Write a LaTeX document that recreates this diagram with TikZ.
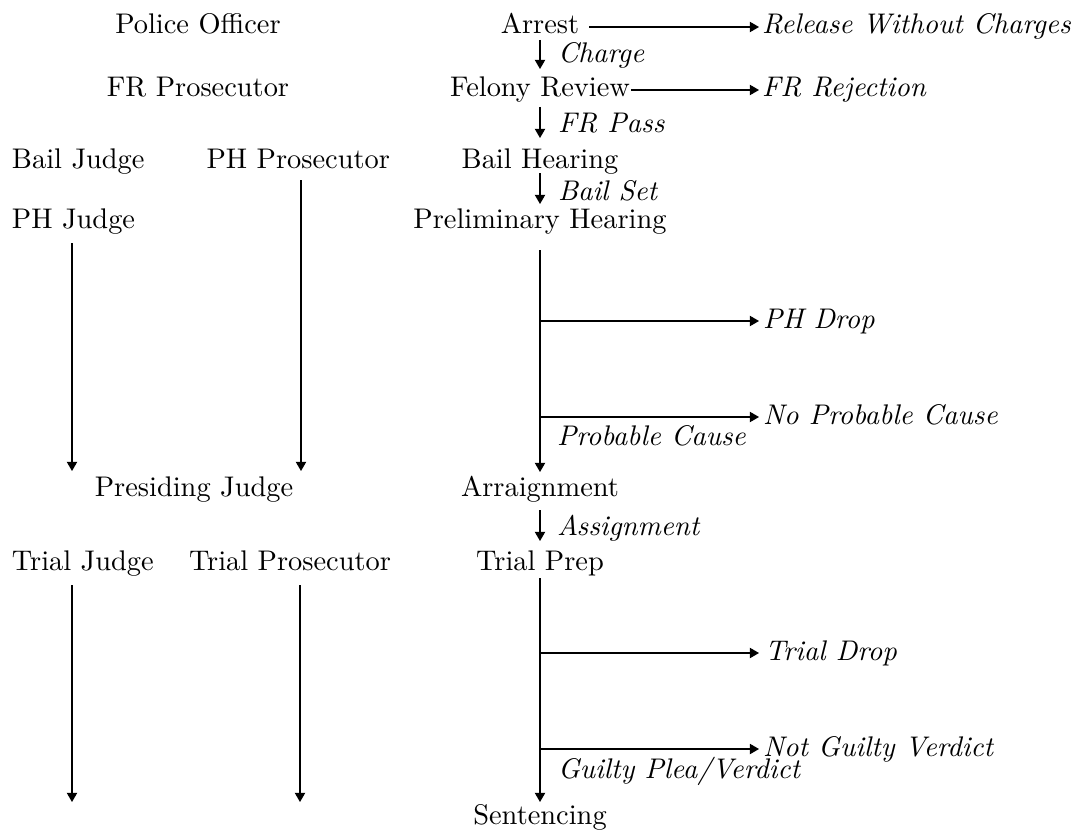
\documentclass[tikz,border=0pt]{standalone}
\usetikzlibrary{arrows.meta}
\begin{document}
\begin{tikzpicture}[x=0.3521pt,y=-0.3521pt,
  every node/.style={inner sep=0pt,outer sep=0pt},
  lbl/.style={font=\itshape},
  arr/.style={-{Triangle[length=3.2pt,width=3.6pt]},line width=0.4pt}]
\useasboundingbox (0,0) rectangle (1078,833);

% row 1
\node[anchor=base] (police) at (198,34) {Police Officer};
\node[anchor=base] (arrest) at (540,34) {Arrest};
\node[anchor=base west,lbl] (release) at (762,34) {Release Without Charges};
\node[anchor=base west,lbl] (charge) at (558,63) {Charge};
% row 2
\node[anchor=base] (frpros) at (198,97) {FR Prosecutor};
\node[anchor=base] (felony) at (540,97) {Felony Review};
\node[anchor=base west,lbl] (frrej) at (762,97) {FR Rejection};
\node[anchor=base west,lbl] (frpass) at (558,132) {FR Pass};
% row 3
\node[anchor=base west] (bailjudge) at (12,168) {Bail Judge};
\node[anchor=base east] (phpros) at (390,168) {PH Prosecutor};
\node[anchor=base] (bailhear) at (540,168) {Bail Hearing};
\node[anchor=base west,lbl] (bailset) at (558,200) {Bail Set};
% row 4
\node[anchor=base west] (phjudge) at (12,228) {PH Judge};
\node[anchor=base] (prelim) at (540,228) {Preliminary Hearing};
\node[anchor=base west,lbl] (phdrop) at (763,328) {PH Drop};
\node[anchor=base west,lbl] (npc) at (763,424) {No Probable Cause};
\node[anchor=base west,lbl] (pc) at (557,445) {Probable Cause};
% row 5
\node[anchor=base] (presiding) at (194,496) {Presiding Judge};
\node[anchor=base] (arraign) at (540,496) {Arraignment};
\node[anchor=base west,lbl] (assign) at (557,535) {Assignment};
% row 6
\node[anchor=base west] (trialjudge) at (12,570) {Trial Judge};
\node[anchor=base east] (trialpros) at (391,570) {Trial Prosecutor};
\node[anchor=base] (trialprep) at (540,570) {Trial Prep};
\node[anchor=base west,lbl] (trialdrop) at (765,660) {Trial Drop};
\node[anchor=base west,lbl] (ngv) at (763,756) {Not Guilty Verdict};
\node[anchor=base west,lbl] (guilty) at (558,778) {Guilty Plea/Verdict};
% row 7
\node[anchor=base] (sentencing) at (540,824) {Sentencing};

% free ends and branch points
\coordinate (br1) at (540,321);
\coordinate (br2) at (540,417);
\coordinate (br3) at (540,653);
\coordinate (br4) at (540,749);
\coordinate (phjend) at (72,471);
\coordinate (phpend) at (301,471);
\coordinate (tjend) at (72,802);
\coordinate (tpend) at (300,802);

% horizontal arrows
\draw[arr] ([shift={(10,-7)}]arrest.base east) -- ([shift={(-3,-7)}]release.base west);
\draw[arr] ([shift={(1,-7)}]felony.base east) -- ([shift={(-3,-7)}]frrej.base west);
\draw[arr] (br1) -- ([shift={(-4,-7)}]phdrop.base west);
\draw[arr] (br2) -- ([shift={(-4,-7)}]npc.base west);
\draw[arr] (br3) -- ([shift={(-6,-7)}]trialdrop.base west);
\draw[arr] (br4) -- ([shift={(-4,-7)}]ngv.base west);

% vertical arrows, main column
\draw[arr] ([shift={(0,6)}]arrest.base) -- ([shift={(0,-28)}]felony.base);
\draw[arr] ([shift={(0,10)}]felony.base) -- ([shift={(0,-30)}]bailhear.base);
\draw[arr] ([shift={(0,5)}]bailhear.base) -- ([shift={(0,-24)}]prelim.base);
\draw[arr] ([shift={(0,22)}]prelim.base) -- ([shift={(0,-24)}]arraign.base);
\draw[arr] ([shift={(0,14)}]arraign.base) -- ([shift={(0,-29)}]trialprep.base);
\draw[arr] ([shift={(0,8)}]trialprep.base) -- ([shift={(0,-22)}]sentencing.base);

% vertical arrows, left columns
\draw[arr] ([shift={(60,15)}]phjudge.base west) -- (phjend);
\draw[arr] ([shift={(-89,12)}]phpros.base east) -- (phpend);
\draw[arr] ([shift={(60,15)}]trialjudge.base west) -- (tjend);
\draw[arr] ([shift={(-91,15)}]trialpros.base east) -- (tpend);
\end{tikzpicture}
\end{document}
